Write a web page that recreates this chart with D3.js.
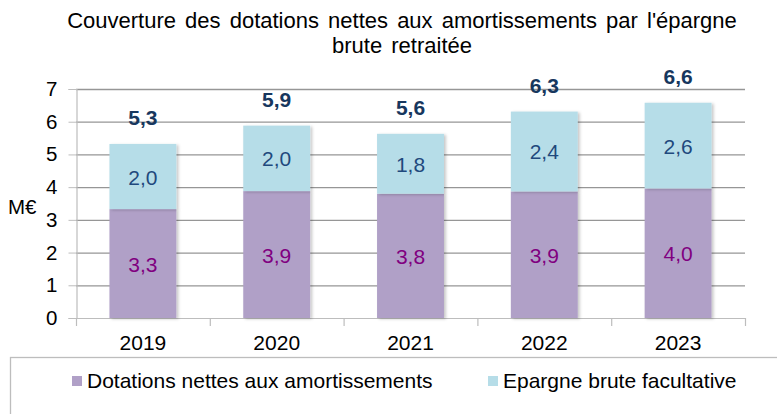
<!DOCTYPE html>
<html><head><meta charset="utf-8">
<script src="https://cdn.jsdelivr.net/npm/d3@7"></script>
<style>
body{margin:0;background:#fff;}
svg{display:block;font-family:"Liberation Sans",Arial,sans-serif;}
</style></head>
<body><svg id="c" width="777" height="414"></svg>
<script>
const years = ["2019","2020","2021","2022","2023"];
const dotations = [3.33,3.88,3.80,3.87,3.96];
const epargne = [1.99,2.00,1.83,2.44,2.62];
const yTicks = [0,1,2,3,4,5,6,7];
const titleLines = ["Couverture des dotations nettes aux amortissements par l'épargne","brute retraitée"];
const legendLabels = ["Dotations nettes aux amortissements","Epargne brute facultative"];
const colors = ["#b0a0c7","#b6dde8"];

const svg = d3.select("#c");
const fmt = v => d3.format(".1f")(v).replace(".", ",");

const x = d3.scaleBand().domain(years).range([76, 745]).paddingInner(0.5).paddingOuter(0.25);
const y = d3.scaleLinear().domain([0,7]).range([318, 89]);

const defs = svg.append("defs");
const f = defs.append("filter").attr("id","sh").attr("x","-10%").attr("y","-10%").attr("width","130%").attr("height","130%");
f.append("feDropShadow").attr("dx",2).attr("dy",1).attr("stdDeviation",1.5).attr("flood-color","#000").attr("flood-opacity",0.22);

// title
svg.append("g").selectAll("text").data(titleLines).join("text")
  .attr("x", 402).attr("y",(d,i)=>28+i*25).attr("text-anchor","middle")
  .attr("font-size",22).attr("word-spacing",3).attr("fill","#000").text(d=>d);

// gridlines
svg.append("g").selectAll("line").data(yTicks.filter(d=>d>0)).join("line")
  .attr("x1",76).attr("x2",745).attr("y1",d=>y(d)+0.5).attr("y2",d=>y(d)+0.5)
  .attr("stroke","#969696").attr("stroke-width",1.3);

// y axis
const ya = svg.append("g").attr("transform","translate(76.5,0)")
  .call(d3.axisLeft(y).tickValues(yTicks).tickSize(8).tickPadding(11).tickFormat(d3.format("d")));
ya.select(".domain").attr("stroke","#bdbdbd").attr("stroke-width",1.2);
ya.selectAll(".tick line").attr("stroke","#bdbdbd");
ya.selectAll(".tick text").attr("font-size",20.5).attr("fill","#000").attr("font-family","Liberation Sans, Arial, sans-serif");

// x axis
const xa = svg.append("g").attr("transform","translate(0,318.5)")
  .call(d3.axisBottom(x).tickSize(0).tickPadding(0));
xa.select(".domain").remove();
xa.selectAll(".tick text").attr("font-size",21).attr("fill","#000").attr("dy",0).attr("y",31)
  .attr("font-family","Liberation Sans, Arial, sans-serif");
svg.append("line").attr("x1",76).attr("x2",745).attr("y1",318.5).attr("y2",318.5).attr("stroke","#bdbdbd").attr("stroke-width",1.2);
const step = x.step();
svg.append("g").selectAll("line").data(d3.range(years.length+1)).join("line")
  .attr("x1",i=>76.5+i*step).attr("x2",i=>76.5+i*step).attr("y1",318).attr("y2",326)
  .attr("stroke","#bdbdbd").attr("stroke-width",1.2);

// M€
svg.append("text").attr("x",8).attr("y",214).attr("font-size",20.5).attr("fill","#000").text("M€");

// bars
const stackData = years.map((yr,i)=>({yr, d:dotations[i], e:epargne[i]}));
const stack = d3.stack().keys(["d","e"])(stackData);
const bars = svg.append("g");
stack.forEach((s,k)=>{
  bars.append("g").selectAll("rect").data(s).join("rect")
    .attr("x",d=>x(d.data.yr)).attr("width",x.bandwidth())
    .attr("y",d=>y(d[1])).attr("height",d=>y(d[0])-y(d[1]))
    .attr("fill",colors[k]).attr("filter","url(#sh)");
});

// inner labels
const labelColors = ["#800080","#1f497d"];
stack.forEach((s,k)=>{
  svg.append("g").selectAll("text").data(s).join("text")
    .attr("x",d=>x(d.data.yr)+x.bandwidth()/2)
    .attr("y",d=>(y(d[0])+y(d[1]))/2+8)
    .attr("text-anchor","middle").attr("font-size",21).attr("fill",labelColors[k])
    .text(d=>fmt(d.data[s.key]));
});

// totals
svg.append("g").selectAll("text").data(stackData).join("text")
  .attr("x",d=>x(d.yr)+x.bandwidth()/2)
  .attr("y",d=>y(d.d+d.e)-19)
  .attr("text-anchor","middle").attr("font-size",21).attr("font-weight","bold").attr("fill","#17375e")
  .text(d=>fmt(Math.round((d.d+d.e)*10)/10));

// legend
svg.append("rect").attr("x",10.5).attr("y",357.5).attr("width",820).attr("height",100)
  .attr("fill","none").attr("stroke","#bdbdbd").attr("stroke-width",1.3);
const legX = [72,488];
const lg = svg.append("g").selectAll("g").data(legendLabels).join("g")
  .attr("transform",(d,i)=>`translate(${legX[i]},0)`);
lg.append("rect").attr("x",0).attr("y",376).attr("width",10).attr("height",10).attr("fill",(d,i)=>colors[i]);
lg.append("text").attr("x",15).attr("y",387.5).attr("font-size",21).attr("fill","#000").text(d=>d);
</script></body></html>
